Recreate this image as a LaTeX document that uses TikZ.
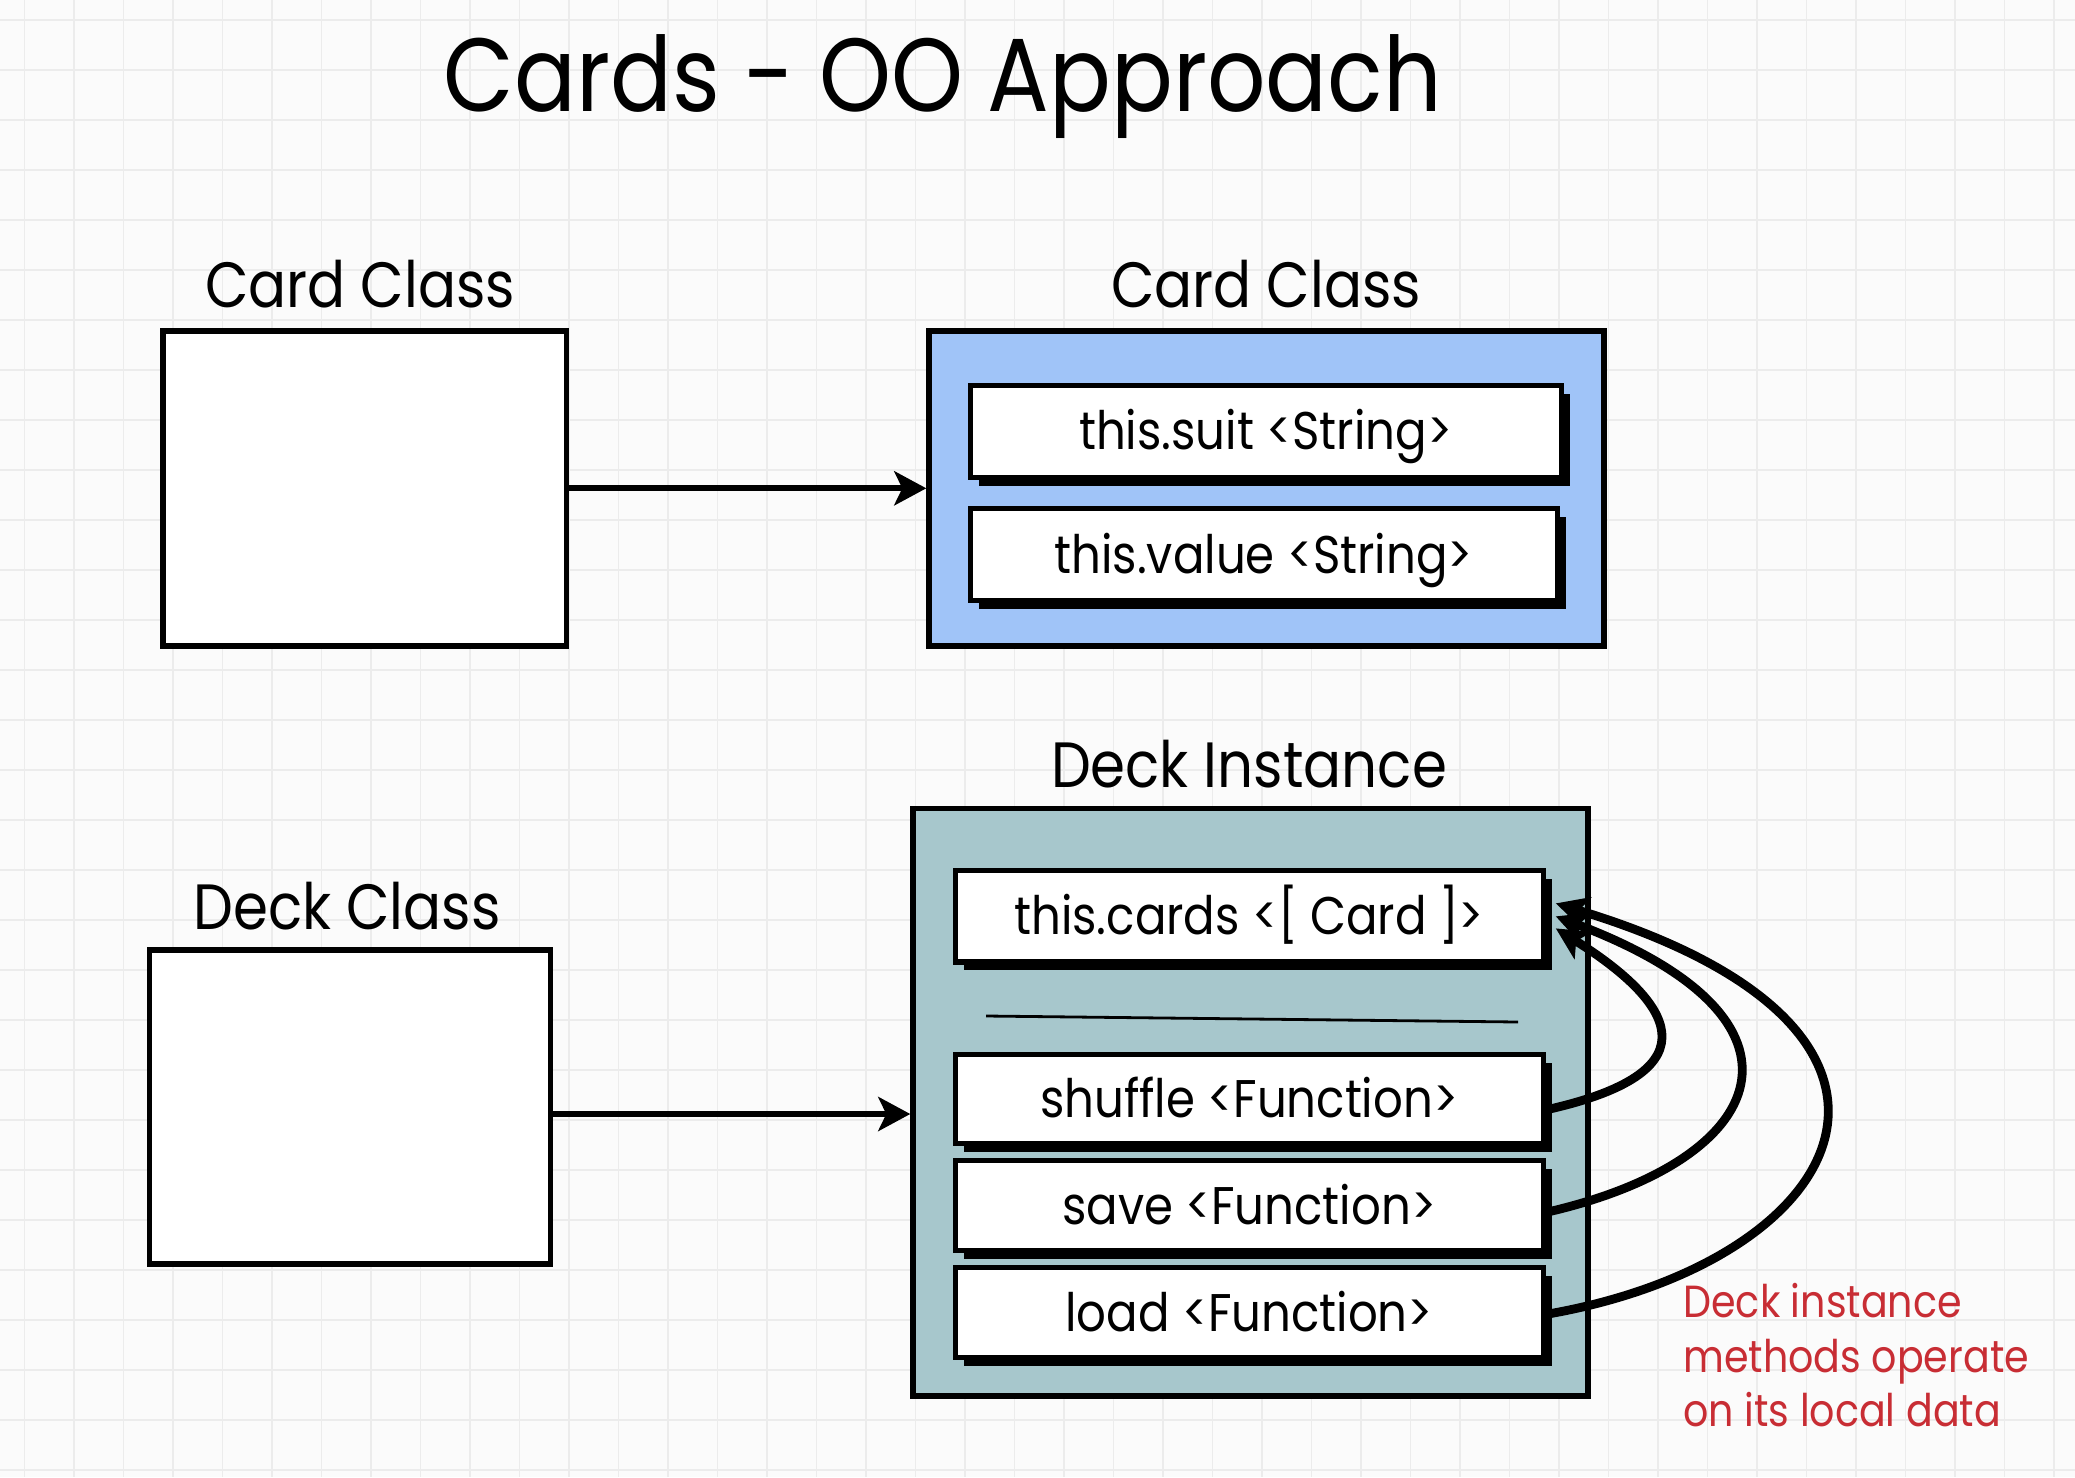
\documentclass[tikz,border=0pt]{standalone}
\usepackage{fontspec}
\setmainfont{Poppins}
\newfontfamily\narrowf{Poppins}[FakeStretch=0.88]
\usetikzlibrary{arrows.meta,shadows,calc}
\definecolor{bluefill}{RGB}{160,196,248}
\definecolor{tealfill}{RGB}{167,199,204}
\definecolor{redtxt}{RGB}{200,45,52}
\definecolor{gridc}{RGB}{236,236,236}
\definecolor{bgc}{RGB}{251,251,251}
\tikzset{
  outerbox/.style={draw=black, line width=2.7pt, inner sep=0pt},
  field/.style={draw=black, fill=white, line width=2.6pt, inner sep=0pt,
    minimum width=294pt, minimum height=46pt, text height=18.5pt, text depth=0pt,
    general shadow={fill=black, shadow xshift=4.2pt, shadow yshift=-4.2pt},
    font=\narrowf\fontsize{26.5}{30}\selectfont},
  heading/.style={anchor=base, font=\narrowf\fontsize{32}{38}\selectfont},
  conn/.style={line width=3pt, -{Stealth[length=16pt,width=17pt,inset=4pt]}},
  loopconn/.style={line width=4.4pt, -{Stealth[length=16pt,width=16pt,inset=4pt]}},
  note/.style={anchor=base west, text=redtxt, font=\narrowf\fontsize{22.5}{27}\selectfont, inner sep=0pt},
}
\begin{document}
\begin{tikzpicture}[x=0.5pt,y=-0.5pt]
\useasboundingbox (0,0) rectangle (2075,1477);
\fill[bgc] (0,0) rectangle (2075,1477);
\foreach \i in {0,...,41} \draw[gridc, line width=0.6pt] ({24.5+49.5*\i},0) -- ({24.5+49.5*\i},1477);
\foreach \j in {0,...,29} \draw[gridc, line width=0.6pt] (0,{20+50*\j}) -- (2075,{20+50*\j});

\node[anchor=base, font=\narrowf\fontsize{52}{60}\selectfont] (title) at (943,112) {Cards - OO Approach};

% top row
\node[heading] (lblcard1) at (360,307) {Card Class};
\node[heading] (lblcard2) at (1266,307) {Card Class};
\node[outerbox, fill=white, minimum width=201.8pt, minimum height=157.5pt] (cardclass) at (364.6,488.3) {};
\node[outerbox, fill=bluefill, minimum width=337.4pt, minimum height=157.5pt] (cardobj) at (1266.4,488.3) {};
\node[field, minimum width=295.5pt] (suit) at (1265.7,431.4) {this.suit <String>};
\node[field, minimum width=293.5pt] (value) at (1263.7,554.5) {this.value <String>};
\draw[conn] (cardclass.east) -- (cardobj.west);

% bottom row
\node[heading] (lbldeckinst) at (1249,787) {Deck Instance};
\node[heading] (lbldeckclass) at (347,929) {Deck Class};
\node[outerbox, fill=white, minimum width=200.5pt, minimum height=156.9pt] (deckclass) at (350,1107) {};
\node[outerbox, fill=tealfill, minimum width=337.5pt, minimum height=293.8pt] (deckinst) at (1250.5,1102.2) {};
\node[field, minimum height=45.6pt] (cards) at (1249.2,916.4) {this.cards <[ Card ]>};
\draw[line width=1.4pt] (986,1016) -- (1518,1022);
\node[field, minimum height=44.5pt] (shuffle) at (1249.2,1099) {shuffle <Function>};
\node[field, minimum height=45pt] (save) at (1249.2,1205.5) {save <Function>};
\node[field, minimum height=45pt] (load) at (1249.2,1312.7) {load <Function>};
\coordinate (dstart) at ($(deckclass.east)+(0,7)$);
\draw[conn] (dstart) -- (dstart -| deckinst.west);

% method loops
\coordinate (tipA) at ($(cards.east)+(10,12)$);
\coordinate (tipB) at ($(cards.east)+(10,0)$);
\coordinate (tipC) at ($(cards.east)+(10,-13)$);
\draw[loopconn] ($(shuffle.east)+(4,10)$) .. controls (1720,1070) and (1670,1000) .. (tipA);
\draw[loopconn] ($(save.east)+(4,6)$) .. controls (1770,1160) and (1830,1020) .. (tipB);
\draw[loopconn] ($(load.east)+(4,1)$) .. controls (1850,1260) and (1975,1030) .. (tipC);

\node[note] (note1) at (1683,1317) {Deck instance};
\node[note] (note2) at (1683,1372) {methods operate};
\node[note] (note3) at (1683,1426) {on its local data};
\end{tikzpicture}
\end{document}
